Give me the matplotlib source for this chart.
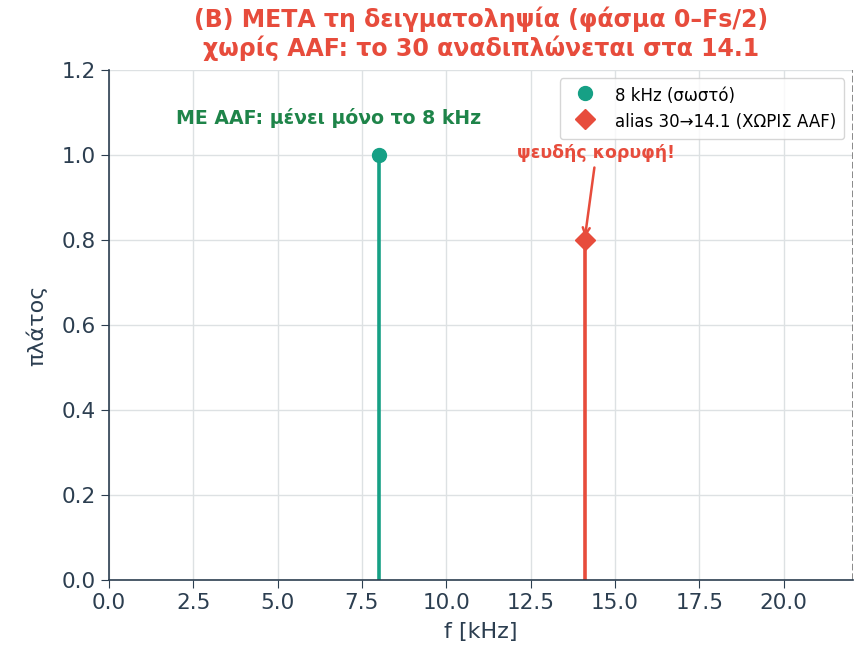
import matplotlib
matplotlib.use("Agg")
import matplotlib.pyplot as plt

# spectrum after sampling, shown from 0 to Fs/2
fs_half = 22.05
true_freq = [8.0]
true_amp = [1.0]
alias_freq = [14.1]
alias_amp = [0.8]

teal = "#16a085"
red = "#e74c3c"
green = "#1e8449"
dark = "#2c3e50"

plt.rcParams["font.family"] = ["DejaVu Sans"]

fig, ax = plt.subplots(figsize=(8.64, 6.49), dpi=100)
fig.subplots_adjust(left=0.126, right=0.987, top=0.892, bottom=0.106)

ml, sl, bl = ax.stem(true_freq, true_amp, label="8 kHz (σωστό)")
plt.setp(sl, color=teal, linewidth=2.6)
plt.setp(ml, color=teal, marker="o", markersize=10)
bl.set_visible(False)

ml2, sl2, bl2 = ax.stem(alias_freq, alias_amp, label="alias 30→14.1 (ΧΩΡΙΣ AAF)")
plt.setp(sl2, color=red, linewidth=2.6)
plt.setp(ml2, color=red, marker="D", markersize=10)
bl2.set_visible(False)

ax.axvline(fs_half, color="gray", linestyle="--", linewidth=1.3)

ax.text(6.5, 1.087, "ΜΕ AAF: μένει μόνο το 8 kHz", color=green, fontsize=13.6,
        fontweight="bold", ha="center", va="center")
ax.annotate("ψευδής κορυφή!", xy=(alias_freq[0], alias_amp[0]), xytext=(14.45, 1.005),
            color=red, fontsize=12.5, fontweight="bold", ha="center", va="center",
            arrowprops=dict(arrowstyle="->", color=red, lw=1.8))

ax.set_xlim(0, fs_half)
ax.set_ylim(0, 1.2)
ax.set_xticks([0, 2.5, 5, 7.5, 10, 12.5, 15, 17.5, 20])
ax.set_xlabel("f [kHz]", fontsize=16, color=dark, labelpad=6)
ax.set_ylabel("πλάτος", fontsize=16, color=dark, labelpad=10)
ax.set_title("(B) ΜΕΤΑ τη δειγματοληψία (φάσμα 0–Fs/2)\nχωρίς AAF: το 30 αναδιπλώνεται στα 14.1",
             color=red, fontsize=17, fontweight="bold", pad=10)
ax.tick_params(labelsize=15.5, colors=dark, length=6)
ax.grid(True, color="#dde1e3", linewidth=1)
ax.set_axisbelow(True)
for s in ["top", "right"]:
    ax.spines[s].set_visible(False)
for s in ["left", "bottom"]:
    ax.spines[s].set_color(dark)
    ax.spines[s].set_linewidth(1.2)

ax.legend(loc="upper right", fontsize=12, borderpad=0.5)

fig.savefig("out.png", dpi=100)
